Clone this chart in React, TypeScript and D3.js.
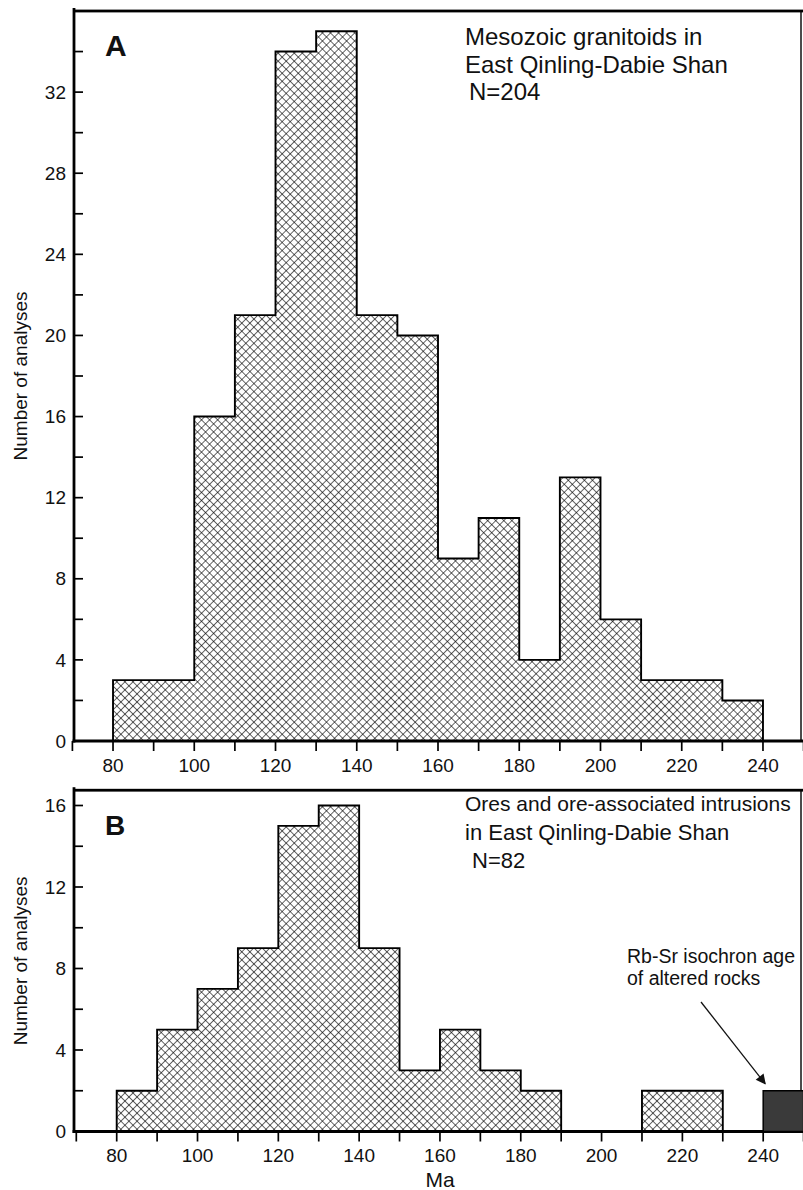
import * as d3 from "d3";

// bins are 10 Ma wide, value = number of analyses
const binStartsA = [80, 90, 100, 110, 120, 130, 140, 150, 160, 170, 180, 190, 200, 210, 220, 230];
const countsA = [3, 3, 16, 21, 34, 35, 21, 20, 9, 11, 4, 13, 6, 3, 3, 2];

const binStartsB = [80, 90, 100, 110, 120, 130, 140, 150, 160, 170, 180, 190, 200, 210, 220, 230];
const countsB = [2, 5, 7, 9, 15, 16, 9, 3, 5, 3, 2, 0, 0, 2, 2, 0];
// Rb-Sr isochron age of altered rocks (solid bar)
const isochronStarts = [240];
const isochronCounts = [2];

const binWidth = 10;
const xTickValues = d3.range(70, 251, 10);
const xTickLabels = [80, 100, 120, 140, 160, 180, 200, 220, 240];
const yTicksA = d3.range(0, 35, 2);
const yLabelsA = [0, 4, 8, 12, 16, 20, 24, 28, 32];
const yTicksB = d3.range(0, 17, 2);
const yLabelsB = [0, 4, 8, 12, 16];

const titleA = ["Mesozoic granitoids in", "East Qinling-Dabie Shan"];
const nA = "N=204";
const titleB = ["Ores and ore-associated intrusions", "in East Qinling-Dabie Shan"];
const nB = "N=82";
const noteB = ["Rb-Sr isochron age", "of altered rocks"];

const FONT = "'Liberation Sans', Arial, Helvetica, sans-serif";
const W = 803, H = 1190;
const axisX = 74, plotRight = 801;

const xA = d3.scaleLinear().domain([70, 250]).range([72.4, 803.6]);
const yA = d3.scaleLinear().domain([0, 36]).range([741, 11]);
const xB = d3.scaleLinear().domain([70, 250]).range([76.3, 803.6]);
const yB = d3.scaleLinear().domain([0, 16]).range([1131.5, 805.5]);

const stepLine = (x: any, y: any) => d3.line<number[]>()
    .curve(d3.curveStepAfter)
    .x(d => x(d[0]))
    .y(d => y(d[1]));

// split bins into runs of non-empty bins, each gets one outline
const outlines = (starts: number[], counts: number[]) => {
    const groups: number[][][] = [];
    let cur: number[][] = [];
    starts.forEach((s, i) => {
        if (counts[i] > 0) cur.push([s, counts[i]]);
        else if (cur.length) { groups.push(cur); cur = []; }
    });
    if (cur.length) groups.push(cur);
    return groups.map(gr => [[gr[0][0], 0], ...gr, [gr[gr.length - 1][0] + binWidth, 0]]);
};

const Panel = ({ x, y, starts, counts, frameTop, yTicks, yLabels, labelPad }: any) => {
    const base = y(0);
    const line = stepLine(x, y);
    return (
        <g>
            {starts.map((s: number, i: number) => counts[i] > 0 &&
                <rect key={s} x={x(s)} width={x(s + binWidth) - x(s)} y={y(counts[i])}
                    height={base - y(counts[i])} fill="url(#hatch)" />)}
            {outlines(starts, counts).map((pts, i) =>
                <path key={i} d={line(pts) || ""} fill="none" stroke="#000" strokeWidth={1.9} />)}

            {/* frame: top edge and right edge, plus axis lines */}
            <path d={`M${axisX},${frameTop}H${plotRight}V${base}`} fill="none" stroke="#000" strokeWidth={1.4} />
            <rect x={axisX} y={frameTop - 1.4} width={W - axisX} height={2.8} fill="#000" />
            <rect x={axisX - 1.4} y={frameTop - 3} width={2.8} height={base - frameTop + 4.5} fill="#000" />
            <rect x={axisX - 1.4} y={base - 1.5} width={W - axisX + 1.4} height={3} fill="#000" />

            {/* x ticks */}
            {xTickValues.map(v => (
                <g key={v} transform={`translate(${x(v)},${base})`}>
                    <line y1={0} y2={10} stroke="#000" strokeWidth={1.7} />
                    {xTickLabels.includes(v) &&
                        <text y={10 + labelPad} dy="0.71em" textAnchor="middle" fontFamily={FONT}
                            fontSize={19} fill="#111">{v}</text>}
                </g>
            ))}

            {/* y ticks point inward */}
            {yTicks.map((v: number) => (
                <g key={v} transform={`translate(${axisX},${y(v)})`}>
                    <line x1={0} x2={9} stroke="#000" strokeWidth={1.7} />
                    {yLabels.includes(v) &&
                        <text x={-8} dy="0.35em" textAnchor="end" fontFamily={FONT}
                            fontSize={19} fill="#111">{v}</text>}
                </g>
            ))}

            <text transform={`translate(27,${(frameTop + base) / 2}) rotate(-90)`} textAnchor="middle"
                fontFamily={FONT} fontSize={19} fill="#111">Number of analyses</text>
        </g>
    );
};

const App = () => {
    const isoTip = xB(isochronStarts[0]) + 2;
    const isoTop = yB(isochronCounts[0]);
    return (
        <svg width={W} height={H}
            style={{ position: "absolute", left: 0, top: 0, background: "#fff" }}>
            <defs>
                <pattern id="hatch" patternUnits="userSpaceOnUse" width={5.7} height={5.7}
                    patternTransform="rotate(45)">
                    <rect width={5.7} height={5.7} fill="#fff" />
                    <line x1={0} y1={0} x2={5.7} y2={0} stroke="#000" strokeWidth={1.2} />
                    <line x1={0} y1={0} x2={0} y2={5.7} stroke="#000" strokeWidth={1.2} />
                </pattern>
                <marker id="arrowHead" viewBox="0 0 10 10" refX={9} refY={5}
                    markerWidth={13} markerHeight={10} markerUnits="userSpaceOnUse" orient="auto">
                    <path d="M0,0 L10,5 L0,10 Z" fill="#111" />
                </marker>
            </defs>

            {/* Panel A */}
            <Panel x={xA} y={yA} starts={binStartsA} counts={countsA} frameTop={yA(36)}
                yTicks={yTicksA} yLabels={yLabelsA} labelPad={8} />
            <text x={105} y={56} fontFamily={FONT} fontWeight="bold" fontSize={30} fill="#111">A</text>
            {titleA.concat([nA]).map((t, i) => (
                <text key={t} x={i === 2 ? 469 : 465} y={45 + i * 27.5} fontFamily={FONT}
                    fontSize={24} fill="#111">{t}</text>
            ))}

            {/* Panel B */}
            <Panel x={xB} y={yB} starts={binStartsB} counts={countsB} frameTop={yB(16.75)}
                yTicks={yTicksB} yLabels={yLabelsB} labelPad={7} />
            {isochronStarts.map((s, i) => (
                <rect key={s} x={xB(s)} width={xB(s + binWidth) - xB(s)} y={yB(isochronCounts[i])}
                    height={yB(0) - yB(isochronCounts[i])} fill="#3a3a3a" stroke="#000" strokeWidth={1.5} />
            ))}
            <text x={105} y={835} fontFamily={FONT} fontWeight="bold" fontSize={28} fill="#111">B</text>
            {titleB.concat([nB]).map((t, i) => (
                <text key={t} x={i === 2 ? 472 : 465} y={811 + i * 28.5} fontFamily={FONT}
                    fontSize={i === 0 ? 21 : 22} fill="#111">{t}</text>
            ))}
            {noteB.map((t, i) => (
                <text key={t} x={627} y={963 + i * 22} fontFamily={FONT} fontSize={19.5} fill="#111">{t}</text>
            ))}
            <line x1={701} y1={1002} x2={isoTip} y2={isoTop - 7} stroke="#111" strokeWidth={1.3}
                markerEnd="url(#arrowHead)" />
            <text x={440} y={1187} textAnchor="middle" fontFamily={FONT} fontSize={21} fill="#111">Ma</text>
        </svg>
    );
};

export default App;
